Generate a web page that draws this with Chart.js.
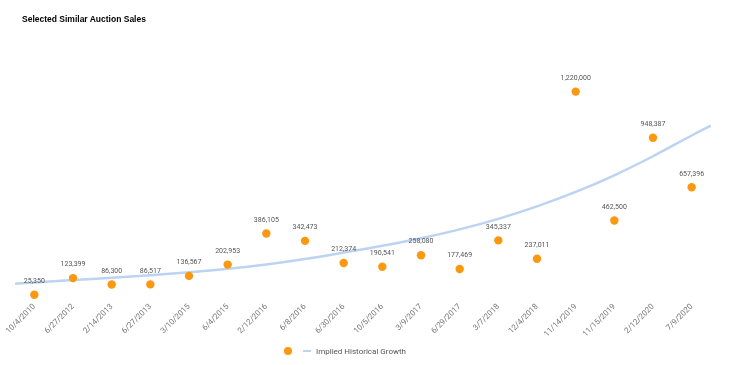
<!DOCTYPE html>
<html>
<head>
<meta charset="utf-8">
<script src="https://cdn.jsdelivr.net/npm/chart.js@4.4.0/dist/chart.umd.min.js"></script>
<style>
  body { margin: 0; background: #fff; }
  #wrap { position: relative; width: 747px; height: 365px; }
  #title {
    position: absolute; left: 22px; top: 14px;
    font: bold 8.5px "Liberation Sans", Arial, sans-serif; color: #000;
  }
  #legend {
    position: absolute; left: 284px; top: 345px; height: 12px;
    display: flex; align-items: center;
    font: 8px Roboto, sans-serif; color: #555;
  }
  #legend .dot { width: 8px; height: 8px; border-radius: 50%; margin-right: 11px; }
  #legend .line { width: 8px; height: 2px; margin-right: 5px; }
</style>
</head>
<body>
<div id="wrap">
  <div id="title">Selected Similar Auction Sales</div>
  <canvas id="chart" width="747" height="365"></canvas>
  <div id="legend"></div>
</div>
<script>
// sale dates (categories) and prices
const saleDates = ['10/4/2010', '6/27/2012', '2/14/2013', '6/27/2013', '3/10/2015', '6/4/2015',
  '2/12/2016', '6/8/2016', '6/30/2016', '10/5/2016', '3/9/2017', '6/29/2017', '3/7/2018',
  '12/4/2018', '11/14/2019', '11/15/2019', '2/12/2020', '7/9/2020'];
const salePrices = [25350, 123399, 86300, 86517, 136567, 202953, 386105, 342473, 212374,
  190541, 258080, 177469, 345337, 237011, 1220000, 462500, 948387, 657396];

// trend curve (position in category units)
const trendPos = [-0.5, 0, 1, 2, 3, 4, 5, 6, 7, 8, 9, 10, 11, 12, 13, 14, 15, 16, 17, 17.5];
const trendValues = [90500, 98000, 112000, 126000, 141000, 158000, 178000, 204000, 236000,
  274000, 314000, 358000, 410000, 472000, 545000, 630000, 728000, 840000, 962000, 1020000];

const orange = '#fa980f';
const lightBlue = '#bcd3f2';

// simple value labels above the dots
const pointLabels = {
  id: 'pointLabels',
  afterDatasetsDraw(chart) {
    const ctx = chart.ctx;
    const meta = chart.getDatasetMeta(0);
    ctx.save();
    ctx.font = '7px Roboto, sans-serif';
    ctx.fillStyle = '#555';
    ctx.textAlign = 'center';
    ctx.textBaseline = 'middle';
    meta.data.forEach((pt, i) => {
      ctx.fillText(salePrices[i].toLocaleString('en-US'), pt.x, pt.y - 13.5);
    });
    ctx.restore();
  }
};

const chart = new Chart(document.getElementById('chart'), {
  type: 'line',
  data: {
    labels: saleDates,
    datasets: [
      {
        label: '',
        data: salePrices,
        showLine: false,
        pointRadius: 4.2,
        pointHoverRadius: 4.2,
        pointBackgroundColor: orange,
        pointBorderWidth: 0,
        borderColor: orange,
        backgroundColor: orange,
        xAxisID: 'x'
      },
      {
        label: 'Implied Historical Growth',
        data: trendPos.map((p, i) => ({ x: p, y: trendValues[i] })),
        borderColor: lightBlue,
        backgroundColor: lightBlue,
        borderWidth: 2.5,
        pointRadius: 0,
        tension: 0.4,
        xAxisID: 'x2'
      }
    ]
  },
  options: {
    responsive: false,
    animation: false,
    layout: { padding: { left: 15, right: 36, top: 61, bottom: 23 } },
    plugins: {
      legend: { display: false },
      tooltip: { enabled: false }
    },
    scales: {
      x: {
        offset: true,
        grid: { display: false, drawTicks: false },
        border: { display: false },
        ticks: {
          autoSkip: false,
          maxRotation: 45,
          minRotation: 45,
          color: '#777',
          font: { family: 'Roboto', size: 8 },
          padding: 3
        }
      },
      x2: {
        type: 'linear',
        min: -0.5,
        max: 17.5,
        display: false
      },
      y: {
        min: 0,
        max: 1400000,
        display: false
      }
    }
  },
  plugins: [pointLabels]
});

// legend built from the chart's datasets
const legend = document.getElementById('legend');
chart.data.datasets.forEach((ds, i) => {
  const mark = document.createElement('span');
  mark.className = i === 0 ? 'dot' : 'line';
  mark.style.background = ds.borderColor;
  legend.appendChild(mark);
  if (ds.label) {
    const txt = document.createElement('span');
    txt.textContent = ds.label;
    legend.appendChild(txt);
  }
});
</script>
</body>
</html>
